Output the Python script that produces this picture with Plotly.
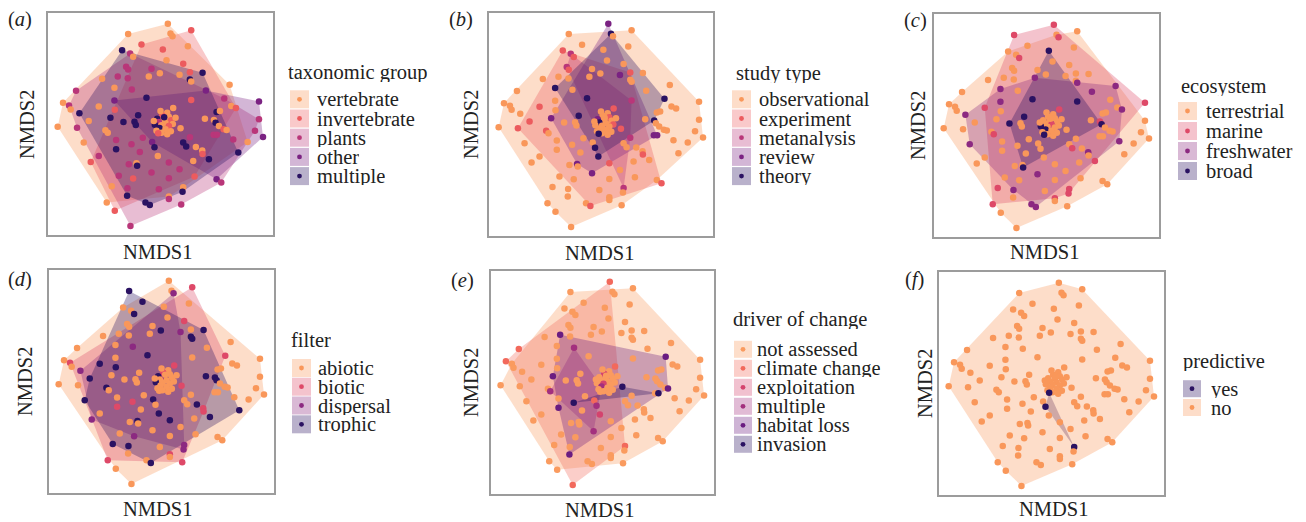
import plotly.graph_objects as go

# ---------------- data: NMDS scores (same ordination in every panel) ----------------
nmds1 = [
    0.11, 0.46, 0.15, 0.18, -0.485, 0.41, -0.285, 0.035, -0.575, -0.455,
    -0.41, 0.09, 0.34, -0.135, -0.515, -0.485, -0.01, 0.285, 0.44, 0.63,
    -0.175, 0.44, 0.46, -0.875, -0.49, 1.035, -0.69, -0.43, -1.265, 0.68,
    -1.46, -1.37, -1.345, -0.69, -0.21, 0.46, 0.955, 1.475, -0.925, -0.685,
    1.06, 1.13, 0.84, 0.89, -1.075, -0.75, -0.39, -0.37, -0.555, 0.665,
    0.80, 0.825, 1.475, -1.54, -1.25, -0.825, -0.79, 0.30, 0.875, 0.945,
    0.99, 1.415, 0.795, 0.845, 1.535, -0.665, -0.265, 0.44, -1.15, -0.435,
    -0.125, 0.34, 1.09, 1.305, 0.385, -0.09, 0.53, -0.665, 0.625, 0.63,
    1.165, -0.925, -0.31, -1.045, -0.475, -0.36, -0.35, 0.49, 0.125, 0.725,
    0.285, -0.135, 0.51, -0.625, -0.41, 0.125, 0.84, 0.91, -0.73, -0.495,
    0.34, 0.33, -0.025, -0.50, 0.125, 0.125, -0.805, -0.225, -0.16, 0.31,
    -0.685, -0.45,
    -1.215, -0.04, -0.335, -0.64,
    0.19, 0.10, 0.025, 0.125, -0.05, 0.05, 0.16, -0.025, 0.075, 0.185,
    -0.085, 0.015, 0.125, -0.015, 0.075, -0.06, 0.155, 0.015, -0.035, 0.055,
    -0.10, 0.225, 0.10, 0.0,
]
nmds2 = [
    1.51, 1.41, 1.36, 1.32, 1.355, 1.17, 1.195, 1.12, 1.11, 1.06,
    1.01, 0.96, 0.905, 0.83, 0.86, 0.82, 0.765, 0.74, 0.78, 0.77,
    0.715, 0.67, 0.64, 0.68, 0.69, 0.59, 0.545, 0.52, 0.50, 0.505,
    0.32, 0.28, 0.22, 0.355, 0.395, 0.36, 0.385, 0.34, 0.265, 0.215,
    0.27, 0.24, 0.18, 0.195, 0.045, 0.095, 0.035, -0.015, 0.03, 0.08,
    0.06, 0.02, 0.07, -0.04, -0.055, -0.095, -0.13, -0.065, -0.03, -0.08,
    -0.09, -0.10, -0.16, -0.16, -0.195, -0.24, -0.205, -0.20, -0.28, -0.305,
    -0.27, -0.28, -0.235, -0.27, -0.34, -0.35, -0.345, -0.38, -0.40, -0.45,
    -0.43, -0.48, -0.42, -0.57, -0.605, -0.59, -0.63, -0.555, -0.58, -0.53,
    -0.68, -0.73, -0.79, -0.78, -0.82, -0.815, -0.83, -0.88, -0.935, -0.965,
    -0.95, -1.02, -0.98, -1.08, -1.09, -1.13, -1.18, -1.18, -1.22, -1.21,
    -1.305, -1.535,
    0.16, -0.48, 0.13, 0.715,
    0.24, 0.17, 0.13, 0.11, 0.08, 0.07, 0.055, 0.03, 0.02, 0.0,
    -0.01, -0.02, -0.03, -0.06, -0.08, -0.10, -0.11, -0.13, -0.14, 0.10,
    0.045, 0.095, -0.155, 0.195,
]

# ---------------- categories ----------------
taxonomic_groups = ["vertebrate", "invertebrate", "plants", "other", "multiple"]
study_types = ["observational", "experiment", "metanalysis", "review", "theory"]
ecosystems = ["terrestrial", "marine", "freshwater", "broad"]
filters = ["abiotic", "biotic", "dispersal", "trophic"]
drivers = ["not assessed", "climate change", "exploitation", "multiple", "habitat loss", "invasion"]
predictive = ["yes", "no"]

# category index of every study, per classification
group_taxon = [
    0, 1, 0, 0, 0, 0, 1, 1, 4, 2,
    0, 0, 1, 2, 2, 2, 0, 0, 1, 4,
    0, 4, 0, 0, 2, 0, 0, 2, 2, 3,
    0, 2, 0, 3, 4, 1, 2, 3, 0, 1,
    0, 1, 4, 0, 0, 4, 4, 4, 4, 0,
    0, 4, 2, 0, 2, 0, 0, 0, 0, 1,
    0, 2, 2, 2, 3, 2, 2, 2, 0, 2,
    3, 4, 2, 0, 4, 4, 0, 4, 0, 1,
    4, 2, 2, 1, 2, 0, 4, 0, 2, 4,
    2, 2, 1, 2, 1, 2, 3, 2, 0, 2,
    0, 4, 2, 4, 0, 2, 0, 4, 4, 2,
    1, 2,
    4, 0, 4, 2,
    0, 0, 1, 0, 4, 0, 1, 2, 0, 0,
    4, 0, 1, 4, 0, 0, 0, 0, 1, 4,
    0, 0, 0, 0,
]
group_study = [
    3, 0, 4, 0, 0, 0, 0, 0, 1, 2,
    1, 0, 0, 0, 2, 1, 0, 3, 1, 0,
    0, 0, 0, 0, 0, 0, 4, 0, 0, 0,
    0, 0, 0, 0, 4, 2, 4, 0, 1, 0,
    0, 0, 0, 0, 1, 3, 0, 0, 0, 0,
    4, 0, 0, 0, 1, 1, 0, 1, 0, 0,
    0, 0, 3, 3, 0, 0, 0, 2, 0, 0,
    0, 0, 0, 0, 0, 4, 0, 0, 0, 1,
    0, 0, 0, 0, 0, 3, 0, 0, 1, 0,
    0, 3, 0, 0, 0, 0, 0, 1, 0, 0,
    2, 0, 0, 0, 0, 0, 0, 0, 1, 0,
    0, 0,
    0, 4, 4, 0,
    1, 0, 0, 1, 3, 0, 0, 4, 0, 1,
    0, 0, 0, 0, 0, 0, 0, 0, 4, 0,
    0, 0, 0, 0,
]
group_ecosystem = [
    1, 0, 0, 1, 1, 0, 0, 3, 0, 0,
    1, 0, 0, 0, 0, 0, 0, 0, 0, 0,
    2, 0, 2, 0, 0, 2, 2, 0, 0, 2,
    0, 0, 0, 2, 3, 3, 0, 1, 1, 0,
    0, 2, 0, 0, 0, 0, 0, 0, 3, 0,
    1, 3, 0, 0, 0, 0, 1, 0, 0, 0,
    0, 0, 0, 0, 0, 0, 0, 0, 2, 0,
    0, 0, 2, 0, 1, 0, 0, 0, 2, 0,
    0, 0, 0, 0, 0, 0, 3, 0, 0, 1,
    0, 2, 0, 0, 0, 0, 0, 0, 1, 2,
    1, 1, 0, 0, 1, 0, 1, 2, 2, 0,
    0, 0,
    2, 0, 3, 0,
    1, 0, 0, 0, 0, 0, 0, 0, 1, 0,
    3, 0, 0, 3, 0, 0, 0, 0, 3, 0,
    0, 0, 0, 0,
]
group_filter = [
    0, 1, 0, 2, 3, 0, 3, 0, 0, 0,
    3, 0, 1, 0, 0, 0, 3, 2, 0, 3,
    0, 3, 3, 0, 0, 0, 0, 2, 0, 0,
    0, 1, 0, 0, 3, 0, 1, 0, 3, 3,
    0, 0, 0, 0, 3, 0, 0, 0, 0, 3,
    3, 3, 0, 0, 0, 3, 0, 1, 0, 0,
    0, 0, 0, 0, 0, 0, 0, 0, 3, 1,
    3, 0, 0, 0, 0, 0, 3, 1, 1, 1,
    3, 0, 0, 2, 0, 3, 0, 0, 3, 3,
    0, 0, 0, 0, 2, 0, 0, 0, 3, 3,
    2, 2, 0, 0, 1, 0, 1, 0, 3, 1,
    0, 0,
    2, 3, 0, 0,
    1, 0, 1, 0, 3, 2, 0, 0, 0, 0,
    3, 0, 0, 0, 0, 0, 0, 0, 0, 0,
    0, 0, 0, 0,
]
group_driver = [
    1, 0, 0, 0, 0, 0, 0, 0, 0, 0,
    0, 0, 0, 0, 0, 0, 0, 0, 0, 0,
    0, 0, 0, 0, 0, 0, 0, 3, 1, 0,
    1, 0, 0, 0, 0, 0, 4, 0, 0, 0,
    0, 0, 0, 0, 0, 4, 0, 0, 0, 0,
    0, 0, 0, 0, 0, 0, 3, 5, 0, 0,
    4, 0, 0, 5, 0, 0, 0, 0, 0, 5,
    1, 0, 0, 0, 0, 3, 0, 4, 0, 0,
    0, 0, 0, 0, 0, 0, 0, 0, 0, 0,
    0, 3, 0, 0, 0, 0, 0, 0, 0, 0,
    1, 0, 0, 4, 0, 0, 0, 0, 0, 0,
    0, 1,
    0, 2, 0, 4,
    1, 0, 2, 0, 0, 0, 0, 0, 0, 0,
    0, 2, 0, 3, 0, 0, 0, 0, 0, 0,
    0, 0, 0, 0,
]
group_predictive = [
    1, 1, 1, 1, 1, 1, 1, 1, 1, 1,
    1, 1, 1, 1, 1, 1, 1, 1, 1, 1,
    1, 1, 1, 1, 1, 1, 1, 1, 1, 1,
    1, 1, 1, 1, 1, 1, 1, 1, 1, 1,
    1, 1, 1, 1, 1, 1, 1, 1, 1, 1,
    1, 1, 1, 1, 1, 1, 1, 1, 1, 1,
    1, 1, 1, 1, 1, 1, 1, 1, 1, 1,
    1, 1, 1, 1, 1, 0, 1, 1, 1, 1,
    1, 1, 1, 1, 1, 1, 1, 1, 1, 1,
    1, 1, 1, 1, 1, 1, 1, 1, 1, 1,
    0, 1, 1, 1, 1, 1, 1, 1, 1, 1,
    1, 1,
    1, 1, 1, 1,
    1, 1, 1, 1, 1, 1, 1, 1, 1, 1,
    1, 1, 1, 1, 1, 1, 1, 1, 0, 1,
    1, 1, 1, 1,
]

for g in (group_taxon, group_study, group_ecosystem, group_filter, group_driver, group_predictive):
    assert len(g) == len(nmds1) == len(nmds2), (len(g), len(nmds1), len(nmds2))

# ---------------- styling ----------------
pal5 = ["#F9975A", "#EC5B5E", "#B93679", "#7A2282", "#2A1262"]
pal4 = ["#F9975A", "#DE4968", "#8C2981", "#2A1262"]
pal6 = ["#FA9B5F", "#F2695C", "#D4436E", "#A3307E", "#6A1C81", "#2A1262"]
pal2 = ["#2A1262", "#F9975A"]
FILL_ALPHA = 0.33
FONT = "Liberation Serif, Times New Roman, serif"
TXT = "#222222"
FS = 20.5
PAGE_OFF = 8            # default page margin around the plot div
W, H = 1306 - PAGE_OFF, 522 - PAGE_OFF


def rgba(hexc, a):
    h = hexc.lstrip("#")
    r, g, b = int(h[0:2], 16), int(h[2:4], 16), int(h[4:6], 16)
    return f"rgba({r},{g},{b},{a})"


def px_x(px):
    return (px - PAGE_OFF) / W


def px_y(py):
    return 1 - (py - PAGE_OFF) / H


def convex_hull(points):
    pts = sorted(set(points))
    if len(pts) <= 2:
        return pts

    def cross(o, a, b):
        return (a[0] - o[0]) * (b[1] - o[1]) - (a[1] - o[1]) * (b[0] - o[0])

    lower = []
    for p in pts:
        while len(lower) >= 2 and cross(lower[-2], lower[-1], p) <= 0:
            lower.pop()
        lower.append(p)
    upper = []
    for p in reversed(pts):
        while len(upper) >= 2 and cross(upper[-2], upper[-1], p) <= 0:
            upper.pop()
        upper.append(p)
    return lower[:-1] + upper[:-1]


panels = [
    dict(lab="a", title="taxonomic group", cats=taxonomic_groups, groups=group_taxon, pal=pal5,
         box=(48, 13, 273, 235), ttl=(287, 72), sw=(290, 309), rows=[99.3, 118.5, 137.7, 156.9, 176.1],
         tx=316, n1=(158, 252), n2=(27, 124), labxy=(20, 19)),
    dict(lab="b", title="study type", cats=study_types, groups=group_study, pal=pal5,
         box=(489, 13, 713, 236), ttl=(735, 73), sw=(732, 751), rows=[99.3, 118.5, 137.7, 156.9, 176.1],
         tx=758, n1=(600, 253), n2=(471, 124), labxy=(461, 19)),
    dict(lab="c", title="ecosystem", cats=ecosystems, groups=group_ecosystem, pal=pal4,
         box=(934, 14, 1159, 237), ttl=(1180, 86), sw=(1178, 1197), rows=[111, 131, 151, 171],
         tx=1205, n1=(1045, 252), n2=(918, 125), labxy=(915, 20)),
    dict(lab="d", title="filter", cats=filters, groups=group_filter, pal=pal4,
         box=(49, 270, 274, 493), ttl=(290, 340), sw=(292, 311), rows=[368, 386.7, 405.5, 424.3],
         tx=317, n1=(158, 509), n2=(25, 381), labxy=(20, 279)),
    dict(lab="e", title="driver of change", cats=drivers, groups=group_driver, pal=pal6,
         box=(491, 271, 714, 494), ttl=(732, 319), sw=(734, 752),
         rows=[349.3, 368.3, 387.3, 406.3, 425.3, 444.3],
         tx=756, n1=(600, 510), n2=(471, 382), labxy=(462, 280)),
    dict(lab="f", title="predictive", cats=predictive, groups=group_predictive, pal=pal2,
         box=(939, 272, 1164, 495), ttl=(1182, 361), sw=(1183, 1201), rows=[388.7, 407.5],
         tx=1210, n1=(1054, 509), n2=(925, 383), labxy=(914, 279)),
]

XR = [-1.685, 1.685]
YR = [-1.67, 1.67]

fig = go.Figure()
layout = dict(width=W, height=H, margin=dict(l=0, r=0, t=0, b=0),
              paper_bgcolor="white", plot_bgcolor="white", showlegend=False)
annotations = []
shapes = []


def text_ann(text, x, y, xanchor="center", angle=0, height=None):
    a = dict(text=text, x=px_x(x), y=px_y(y), xref="paper", yref="paper", showarrow=False,
             xanchor=xanchor, yanchor="middle", textangle=angle, borderpad=0,
             font=dict(family=FONT, size=FS, color=TXT))
    if height is not None:
        a["height"] = height
    return a


for i, p in enumerate(panels, start=1):
    xa = "x" if i == 1 else f"x{i}"
    ya = "y" if i == 1 else f"y{i}"
    x0, y0, x1, y1 = p["box"]
    axis_common = dict(showticklabels=False, ticks="", showgrid=False, zeroline=False,
                       showline=True, mirror=True, linecolor="#9c9c9c", linewidth=1.5,
                       fixedrange=True)
    layout["xaxis" if i == 1 else f"xaxis{i}"] = dict(domain=[px_x(x0), px_x(x1)], range=XR,
                                                       anchor=ya, **axis_common)
    layout["yaxis" if i == 1 else f"yaxis{i}"] = dict(domain=[px_y(y1), px_y(y0)], range=YR,
                                                       anchor=xa, **axis_common)

    # hulls (one per category, in category order)
    for g, cat in enumerate(p["cats"]):
        pts = [(nmds1[k], nmds2[k]) for k in range(len(nmds1)) if p["groups"][k] == g]
        hull = convex_hull(pts)
        if len(hull) < 3:
            continue
        hx = [q[0] for q in hull] + [hull[0][0]]
        hy = [q[1] for q in hull] + [hull[0][1]]
        fig.add_trace(go.Scatter(x=hx, y=hy, mode="lines", fill="toself",
                                 fillcolor=rgba(p["pal"][g], FILL_ALPHA), line=dict(width=0),
                                 hoverinfo="skip", name=cat, xaxis=xa, yaxis=ya))
    # points
    fig.add_trace(go.Scatter(x=nmds1, y=nmds2, mode="markers",
                             marker=dict(size=6.5, color=[p["pal"][g] for g in p["groups"]]),
                             text=[p["cats"][g] for g in p["groups"]], hoverinfo="text",
                             xaxis=xa, yaxis=ya))

    # panel label, axis titles
    annotations.append(text_ann(f"(<i>{p['lab']}</i>)", *p["labxy"], height=22))
    annotations.append(text_ann("NMDS1", *p["n1"], height=22))
    annotations.append(text_ann("NMDS2", *p["n2"], angle=-90))

    # legend (manual keys: translucent square + dot)
    annotations.append(text_ann(p["title"], *p["ttl"], xanchor="left", height=20))
    sx0, sx1 = p["sw"]
    half = (sx1 - sx0) / 2
    for g, cat in enumerate(p["cats"]):
        cy = p["rows"][g]
        cx = (sx0 + sx1) / 2
        shapes.append(dict(type="rect", xref="paper", yref="paper",
                           x0=px_x(sx0), x1=px_x(sx1), y0=px_y(cy + half - 0.5), y1=px_y(cy - half + 0.5),
                           fillcolor=rgba(p["pal"][g], FILL_ALPHA), line=dict(width=0), layer="above"))
        shapes.append(dict(type="circle", xref="paper", yref="paper",
                           x0=px_x(cx - 2.4), x1=px_x(cx + 2.4), y0=px_y(cy + 2.4), y1=px_y(cy - 2.4),
                           fillcolor=p["pal"][g], line=dict(width=0), layer="above"))
        annotations.append(text_ann(cat, p["tx"], cy, xanchor="left", height=18))

layout["annotations"] = annotations
layout["shapes"] = shapes
fig.update_layout(**layout)
fig.write_html("out.html")
